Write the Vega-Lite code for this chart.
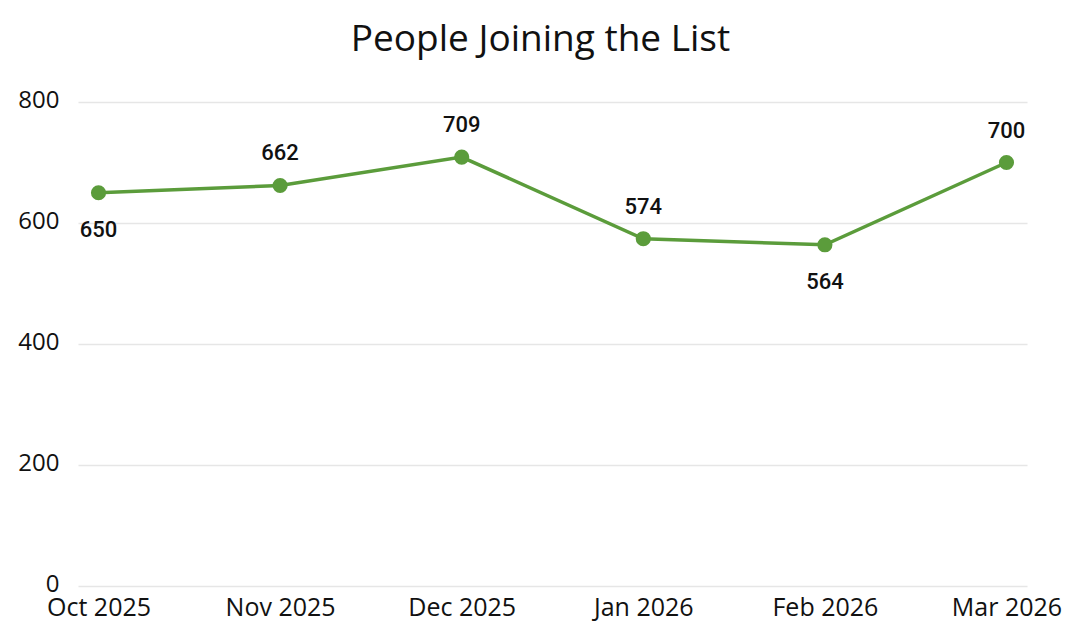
{
  "$schema": "https://vega.github.io/schema/vega-lite/v6.json",
  "autosize": {"type": "none"},
  "width": 949,
  "height": 484,
  "padding": {"left": 78, "top": 102, "right": 39, "bottom": 57},
  "background": "white",
  "title": {
    "text": "People Joining the List",
    "font": "Open Sans",
    "fontSize": 37,
    "fontWeight": "normal",
    "color": "#111111",
    "anchor": "middle",
    "frame": "group",
    "dx": -12,
    "offset": 29
  },
  "data": {
    "values": [
      {"month": "Oct 2025", "people": 650},
      {"month": "Nov 2025", "people": 662},
      {"month": "Dec 2025", "people": 709},
      {"month": "Jan 2026", "people": 574},
      {"month": "Feb 2026", "people": 564},
      {"month": "Mar 2026", "people": 700}
    ]
  },
  "encoding": {
    "x": {
      "field": "month",
      "type": "ordinal",
      "sort": null,
      "scale": {"type": "point", "padding": 0.113},
      "axis": {
        "title": null,
        "labelAngle": 0,
        "labelFont": "Open Sans",
        "labelFontSize": 25,
        "labelColor": "#111111",
        "labelPadding": 9,
        "ticks": false,
        "domain": false,
        "grid": false,
        "labelOverlap": false,
        "labelFlush": false,
        "labelBound": false
      }
    },
    "y": {
      "field": "people",
      "type": "quantitative",
      "scale": {"domain": [0, 800], "nice": false},
      "axis": {
        "title": null,
        "values": [0, 200, 400, 600, 800],
        "labelFont": "Open Sans",
        "labelFontSize": 24,
        "labelColor": "#111111",
        "labelPadding": 19,
        "labelOffset": -2,
        "ticks": false,
        "domain": false,
        "grid": true,
        "gridColor": "#e6e6e6",
        "gridWidth": 1.5
      }
    }
  },
  "layer": [
    {
      "mark": {"type": "line", "color": "#5b9c3b", "strokeWidth": 3.5}
    },
    {
      "mark": {"type": "point", "filled": true, "opacity": 1, "color": "#5b9c3b", "size": 230}
    },
    {
      "transform": [{"filter": {"not": {"field": "month", "oneOf": ["Oct 2025", "Feb 2026"]}}}],
      "mark": {"type": "text", "font": "Roboto", "fontSize": 22, "fontWeight": 500, "color": "#111111", "baseline": "middle", "dy": -32},
      "encoding": {"text": {"field": "people", "type": "quantitative"}}
    },
    {
      "transform": [{"filter": {"field": "month", "oneOf": ["Oct 2025", "Feb 2026"]}}],
      "mark": {"type": "text", "font": "Roboto", "fontSize": 22, "fontWeight": 500, "color": "#111111", "baseline": "middle", "dy": 37},
      "encoding": {"text": {"field": "people", "type": "quantitative"}}
    }
  ],
  "config": {"view": {"stroke": null}}
}
